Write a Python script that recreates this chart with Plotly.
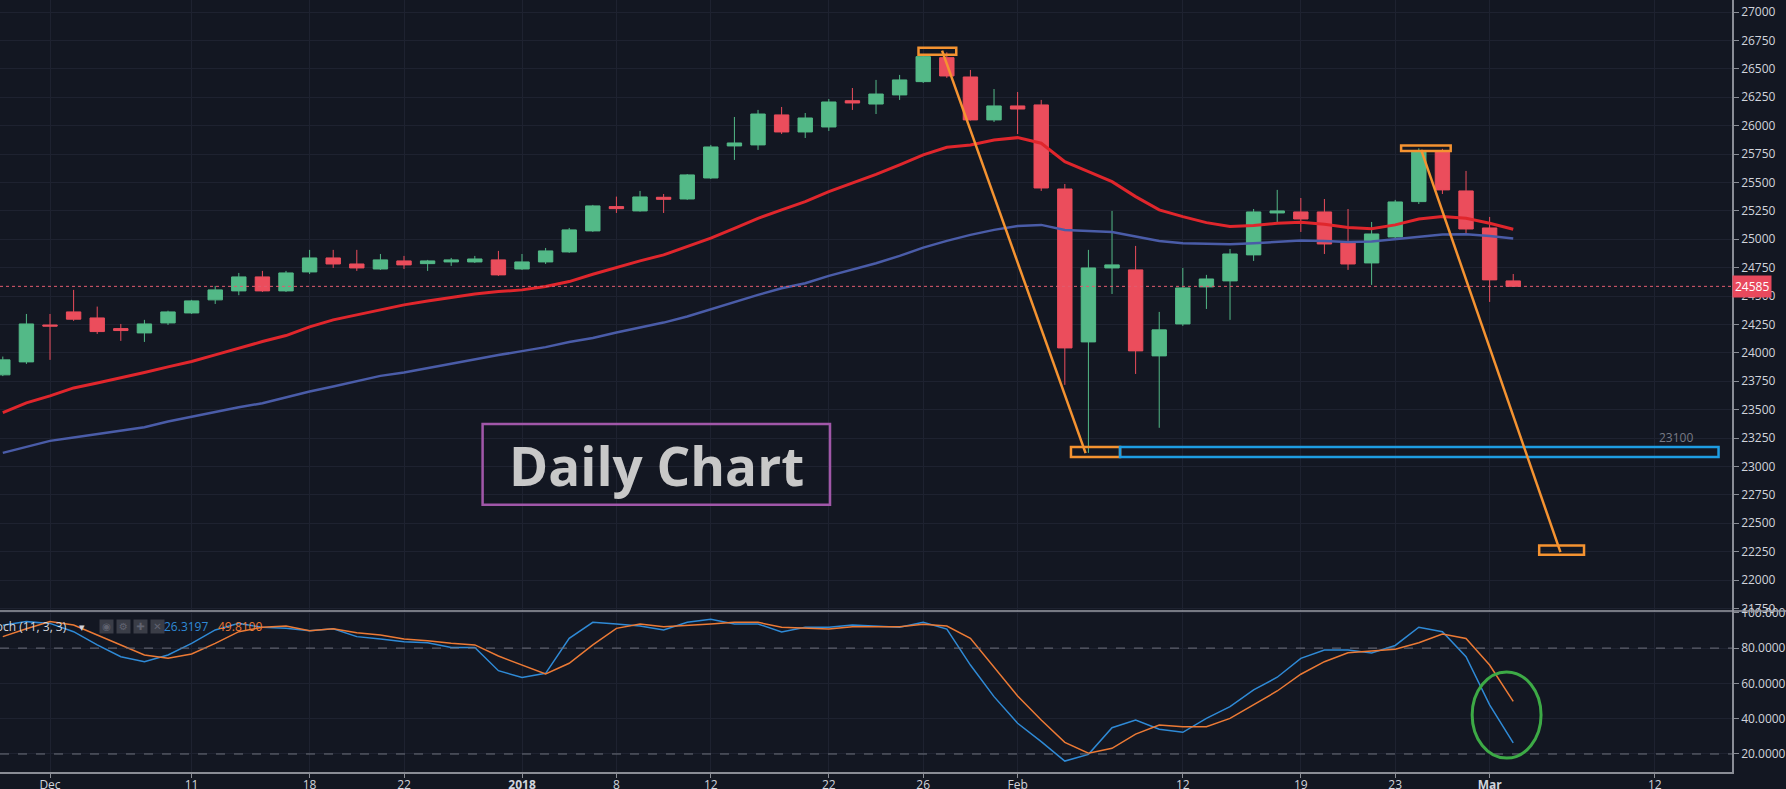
import plotly.graph_objects as go

# ---------------- data ----------------
dates = [
    "2017-11-29", "2017-11-30", "2017-12-01", "2017-12-04", "2017-12-05", "2017-12-06",
    "2017-12-07", "2017-12-08", "2017-12-11", "2017-12-12", "2017-12-13", "2017-12-14",
    "2017-12-15", "2017-12-18", "2017-12-19", "2017-12-20", "2017-12-21", "2017-12-22",
    "2017-12-26", "2017-12-27", "2017-12-28", "2017-12-29", "2018-01-02", "2018-01-03",
    "2018-01-04", "2018-01-05", "2018-01-08", "2018-01-09", "2018-01-10", "2018-01-11",
    "2018-01-12", "2018-01-16", "2018-01-17", "2018-01-18", "2018-01-19", "2018-01-22",
    "2018-01-23", "2018-01-24", "2018-01-25", "2018-01-26", "2018-01-29", "2018-01-30",
    "2018-01-31", "2018-02-01", "2018-02-02", "2018-02-05", "2018-02-06", "2018-02-07",
    "2018-02-08", "2018-02-09", "2018-02-12", "2018-02-13", "2018-02-14", "2018-02-15",
    "2018-02-16", "2018-02-19", "2018-02-20", "2018-02-21", "2018-02-22", "2018-02-23",
    "2018-02-26", "2018-02-27", "2018-02-28", "2018-03-01", "2018-03-02",
]
future_dates = ["2018-03-05", "2018-03-06", "2018-03-07", "2018-03-08", "2018-03-09",
                "2018-03-12", "2018-03-13", "2018-03-14", "2018-03-15", "2018-03-16"]

open_ = [23806, 23920, 24245, 24360, 24307, 24213, 24175, 24263, 24351, 24466, 24545, 24668,
         24545, 24712, 24835, 24782, 24738, 24809, 24785, 24800, 24800, 24818, 24738, 24800,
         24888, 25073, 25287, 25249, 25369, 25354, 25539, 25821, 25830, 26094, 25944, 25988,
         26219, 26190, 26270, 26387, 26598, 26428, 26050, 26173, 26182, 25442, 24096, 24747,
         24730, 23973, 24254, 24580, 24633, 24862, 25231, 25240, 25240, 24967, 24791, 25020,
         25331, 25777, 25425, 25099, 24633]
high = [23967, 24342, 24342, 24554, 24407, 24254, 24290, 24371, 24466, 24589, 24703, 24721,
        24721, 24906, 24906, 24906, 24870, 24853, 24818, 24835, 24853, 24897, 24870, 24923,
        25099, 25302, 25375, 25425, 25398, 25574, 25830, 26076, 26138, 26164, 26111, 26234,
        26331, 26402, 26446, 26620, 26645, 26490, 26322, 26296, 26226, 25486, 24906, 25249,
        24941, 24360, 24747, 24686, 24914, 25266, 25434, 25363, 25354, 25266, 25152, 25346,
        25800, 25795, 25601, 25196, 24694]
low = [23795, 23902, 23938, 24281, 24166, 24105, 24096, 24245, 24342, 24430, 24507, 24536,
       24536, 24694, 24747, 24721, 24730, 24738, 24721, 24765, 24791, 24677, 24730, 24782,
       24880, 25065, 25231, 25243, 25231, 25346, 25530, 25698, 25786, 25926, 25891, 25953,
       26138, 26102, 26226, 26375, 26420, 26045, 26032, 25926, 25425, 23718, 23119, 24518,
       23814, 23340, 24237, 24386, 24290, 24809, 25134, 25064, 24870, 24730, 24598, 25002,
       25310, 25398, 25038, 24448, 24580]
close = [23938, 24254, 24235, 24296, 24187, 24196, 24254, 24360, 24457, 24554, 24668, 24545,
         24703, 24835, 24782, 24747, 24818, 24774, 24809, 24818, 24826, 24686, 24800, 24897,
         25082, 25293, 25269, 25372, 25351, 25566, 25812, 25847, 26102, 25944, 26067, 26208,
         26199, 26278, 26402, 26607, 26437, 26050, 26173, 26146, 25451, 24043, 24747, 24774,
         24017, 24202, 24571, 24650, 24870, 25240, 25249, 25178, 24958, 24782, 25046, 25328,
         25779, 25434, 25090, 24642, 24585]

ma_red = [23474, 23559, 23621, 23691, 23735, 23779, 23826, 23876, 23923, 23982, 24043, 24099,
          24152, 24228, 24290, 24334, 24378, 24422, 24457, 24489, 24518, 24539, 24554, 24583,
          24627, 24692, 24753, 24809, 24862, 24935, 25009, 25096, 25184, 25258, 25331, 25419,
          25492, 25571, 25654, 25742, 25809, 25830, 25874, 25894, 25845, 25683, 25595, 25507,
          25375, 25258, 25199, 25146, 25111, 25120, 25140, 25150, 25132, 25103, 25093, 25126,
          25178, 25199, 25184, 25140, 25087]
ma_blue = [23119, 23170, 23225, 23254, 23286, 23315, 23345, 23395, 23439, 23483, 23521, 23556,
           23609, 23659, 23703, 23747, 23797, 23826, 23864, 23908, 23944, 23980, 24015, 24050,
           24095, 24130, 24178, 24222, 24266, 24319, 24384, 24451, 24510, 24568, 24612, 24677,
           24730, 24789, 24853, 24926, 24985, 25038, 25082, 25117, 25126, 25082, 25073, 25064,
           25023, 24985, 24965, 24958, 24956, 24965, 24976, 24988, 24985, 24976, 24979, 25000,
           25023, 25041, 25044, 25029, 25006]

stoch_k = [93, 95, 94, 89.3, 81.8, 75.1, 72.3, 76.1, 82.7, 90.3, 94, 91.8, 91.2, 89.9, 91,
           86.5, 85.2, 83.6, 83, 80.4, 80.4, 67.2, 63.4, 65.7, 85.5, 94.6, 93.7, 92.5, 90.3,
           94.6, 96.3, 93.7, 93.7, 89.1, 91.8, 91.8, 93.1, 92.5, 91.8, 94.6, 90.8, 70.4, 52.5,
           37.4, 27, 16, 19.8, 34.9, 39.3, 34, 32.3, 40.2, 46.8, 56.3, 63.5, 74.2, 78.9, 78.9,
           77.2, 81.5, 91.8, 89.3, 75.1, 47.8, 26.3197]
stoch_d = [86.5, 91, 95, 93.1, 87.4, 81.8, 76.1, 74.2, 76.7, 82.7, 89.3, 91.8, 92.5, 89.9, 91,
           88.7, 87.4, 85.2, 84.2, 82.7, 81.8, 75.5, 70.4, 65.3, 71.4, 81.8, 91.2, 93.7, 92.1,
           92.7, 93.7, 94.6, 94.6, 91.8, 91.2, 90.8, 92.1, 92.1, 92.1, 93.5, 92.5, 85.5, 69.4,
           52.9, 39.3, 26.6, 20.4, 23.2, 31.3, 36.4, 35.5, 35.5, 40.2, 47.8, 55.7, 65.2, 72.3,
           77.4, 78.2, 79.3, 83, 88, 85.5, 70.4, 49.81]

tick_dates = ["2017-12-01", "2017-12-11", "2017-12-18", "2017-12-22", "2018-01-02", "2018-01-08",
              "2018-01-12", "2018-01-22", "2018-01-26", "2018-02-01", "2018-02-12", "2018-02-19",
              "2018-02-23", "2018-03-01", "2018-03-12"]
tick_labels = ["Dec", "11", "18", "22", "<b>2018</b>", "8", "12", "22", "26", "Feb", "12", "19",
               "23", "<b>Mar</b>", "12"]
price_ticks = [21750, 22000, 22250, 22500, 22750, 23000, 23250, 23500, 23750, 24000, 24250,
               24500, 24750, 25000, 25250, 25500, 25750, 26000, 26250, 26500, 26750, 27000]
stoch_ticks = [20, 40, 60, 80, 100]
last_price = 24585
support_level = 23100

# ---------------- styling ----------------
BG = "#131722"
GRID = "#1e2230"
AXIS = "#8a8d96"
TXT = "#d1d4dc"
GREEN = "#53b987"
RED = "#eb4d5c"
ORANGE = "#f59331"
FONT = "Open Sans"

calendar = dates + future_dates
pos = {d: i for i, d in enumerate(calendar)}
xs = [pos[d] for d in dates]


def px(d, off=0.0):
    return pos[d] + off


SPLIT = 0.2085  # paper height of stochastic pane

fig = go.Figure()
fig.add_trace(go.Candlestick(
    x=xs, open=open_, high=high, low=low, close=close,
    increasing=dict(line=dict(color=GREEN, width=1), fillcolor=GREEN),
    decreasing=dict(line=dict(color=RED, width=1), fillcolor=RED),
    whiskerwidth=0, hoverinfo="skip", xaxis="x", yaxis="y", showlegend=False))
fig.add_trace(go.Scatter(x=xs, y=ma_red, mode="lines", line=dict(color="#e0262c", width=3),
                         xaxis="x", yaxis="y", hoverinfo="skip", showlegend=False))
fig.add_trace(go.Scatter(x=xs, y=ma_blue, mode="lines", line=dict(color="#4a5ca8", width=2.5),
                         xaxis="x", yaxis="y", hoverinfo="skip", showlegend=False))
fig.add_trace(go.Scatter(x=xs, y=stoch_k, mode="lines", line=dict(color="#2f8ad6", width=1.5),
                         xaxis="x", yaxis="y2", hoverinfo="skip", showlegend=False))
fig.add_trace(go.Scatter(x=xs, y=stoch_d, mode="lines", line=dict(color="#ec7a35", width=1.5),
                         xaxis="x", yaxis="y2", hoverinfo="skip", showlegend=False))

shapes = []
# last price dotted line
shapes.append(dict(type="line", xref="paper", x0=0, x1=1, yref="y", y0=last_price, y1=last_price,
                   line=dict(color="#e25b6e", width=1, dash="dot")))
# pane separator
shapes.append(dict(type="line", xref="paper", x0=0, x1=1.035, yref="paper", y0=SPLIT, y1=SPLIT,
                   line=dict(color="#9a9da6", width=1.5)))
# stochastic bands
for lvl in (80, 20):
    shapes.append(dict(type="line", xref="paper", x0=0, x1=1, yref="y2", y0=lvl, y1=lvl,
                       line=dict(color="#6e717c", width=1, dash="dash")))
# orange drawings
shapes.append(dict(type="rect", xref="x", yref="y", x0=px("2018-01-26", -0.2), x1=px("2018-01-29", 0.4),
                   y0=26624, y1=26686, line=dict(color=ORANGE, width=2.5)))
shapes.append(dict(type="line", xref="x", yref="y", x0=px("2018-01-29", -0.2), y0=26660,
                   x1=px("2018-02-06", -0.12), y1=23117, line=dict(color=ORANGE, width=2.5)))
shapes.append(dict(type="rect", xref="x", yref="y", x0=px("2018-02-05", 0.26), x1=px("2018-02-07", 0.34),
                   y0=23084, y1=23172, line=dict(color=ORANGE, width=2.5)))
shapes.append(dict(type="rect", xref="x", yref="y", x0=px("2018-02-07", 0.34), x1=px("2018-03-14", 0.7),
                   y0=23084, y1=23172, line=dict(color="#1e9de3", width=2.5)))
shapes.append(dict(type="rect", xref="x", yref="y", x0=px("2018-02-23", 0.25), x1=px("2018-02-27", 0.35),
                   y0=25777, y1=25824, line=dict(color=ORANGE, width=2.5)))
shapes.append(dict(type="line", xref="x", yref="y", x0=px("2018-02-26", 0.1), y0=25786,
                   x1=px("2018-03-06"), y1=22245, line=dict(color=ORANGE, width=2.5)))
shapes.append(dict(type="rect", xref="x", yref="y", x0=px("2018-03-05", 0.1), x1=px("2018-03-07"),
                   y0=22222, y1=22304, line=dict(color=ORANGE, width=2.5)))
# "Daily Chart" frame
shapes.append(dict(type="rect", xref="x", yref="y", x0=px("2017-12-28", 0.33), x1=px("2018-01-22", 0.05),
                   y0=22662, y1=23374, line=dict(color="#a157a9", width=2.5)))
# green ellipse on stochastic
shapes.append(dict(type="circle", xref="x", yref="y2", x0=px("2018-02-28", 0.26), x1=px("2018-03-05", 0.18),
                   y0=17.7, y1=66.5, line=dict(color="#3daa46", width=3)))

PW = 1732.0  # plot width in px
ann = []
ann.append(dict(text="<b>Daily Chart</b>", xref="x", yref="y", x=px("2018-01-09", 0.69), y=23010,
                showarrow=False, font=dict(family=FONT, size=53, color="#c8c8c8")))
ann.append(dict(text=str(support_level), xref="x", yref="y", x=px("2018-03-13", -0.1), y=23251,
                showarrow=False, font=dict(family=FONT, size=12, color="#787b86")))
ann.append(dict(text=str(last_price), xref="paper", yref="y", x=1.0, y=last_price, xanchor="left",
                showarrow=False, bgcolor="#e8495d", borderpad=2,
                font=dict(family=FONT, size=12, color="#ffffff")))
ann.append(dict(text="Stoch (11, 3, 3)", xref="paper", yref="y2", x=69 / PW, y=92, xanchor="right",
                showarrow=False, font=dict(family=FONT, size=12, color=TXT)))
ann.append(dict(text="▾", xref="paper", yref="y2", x=77 / PW, y=92, showarrow=False,
                font=dict(family=FONT, size=11, color=TXT)))
for k, sym in enumerate(["◉", "⚙", "✚", "✕"]):
    ann.append(dict(text=sym, xref="paper", yref="y2", x=(99 + k * 17) / PW, y=92, showarrow=False,
                    bgcolor="#3a3d47", width=13, height=13, borderpad=0,
                    font=dict(family="DejaVu Sans", size=10, color="#606370")))
ann.append(dict(text=f"{stoch_k[-1]:.4f}", xref="paper", yref="y2", x=162 / PW, y=92, xanchor="left",
                showarrow=False, font=dict(family=FONT, size=12, color="#2f8ad6")))
ann.append(dict(text=f"{stoch_d[-1]:.4f}", xref="paper", yref="y2", x=216 / PW, y=92, xanchor="left",
                showarrow=False, font=dict(family=FONT, size=12, color="#ec7a35")))

fig.update_layout(
    width=1786, height=789,
    margin=dict(l=0, r=54, t=0, b=17, pad=0),
    paper_bgcolor=BG, plot_bgcolor=BG,
    showlegend=False,
    boxgap=0.39, boxgroupgap=0,
    font=dict(family=FONT, size=12, color=TXT),
    xaxis=dict(domain=[0, 1], anchor="y2", range=[-0.119, 73.27],
               tickmode="array", tickvals=[pos[d] for d in tick_dates], ticktext=tick_labels,
               showgrid=True, gridcolor=GRID, gridwidth=1, zeroline=False,
               showline=True, linecolor=AXIS, linewidth=1.5,
               ticks="outside", ticklen=4, tickcolor=AXIS, ticklabelstandoff=-3,
               tickfont=dict(family=FONT, size=12, color=TXT),
               rangeslider=dict(visible=False), automargin=False, fixedrange=True),
    yaxis=dict(domain=[SPLIT, 1], anchor="x", side="right", range=[21727, 27105.6],
               tickmode="array", tickvals=price_ticks, ticktext=[str(v) for v in price_ticks],
               showgrid=True, gridcolor=GRID, zeroline=False,
               showline=True, linecolor=AXIS, linewidth=1.5,
               ticks="outside", ticklen=5, tickcolor=AXIS,
               tickfont=dict(family=FONT, size=12, color=TXT), automargin=False),
    yaxis2=dict(domain=[0, SPLIT], anchor="x", side="right", range=[9.8, 101],
                tickmode="array", tickvals=stoch_ticks, ticktext=[f"{v:.4f}" for v in stoch_ticks],
                showgrid=True, gridcolor=GRID, zeroline=False,
                showline=True, linecolor=AXIS, linewidth=1.5,
                ticks="outside", ticklen=5, tickcolor=AXIS,
                tickfont=dict(family=FONT, size=12, color=TXT), automargin=False),
    shapes=shapes, annotations=ann,
)

fig.write_html(
    "out.html",
    config={"displayModeBar": False},
    post_script="document.body.style.margin='0';document.body.style.overflow='hidden';"
                "document.body.style.background='#131722';",
)
